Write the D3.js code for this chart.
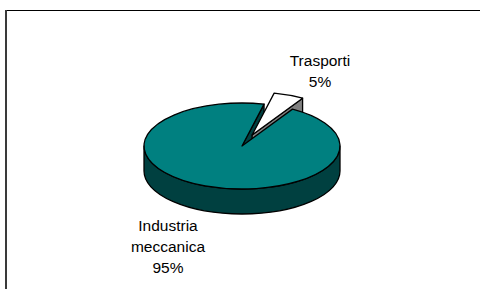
<!DOCTYPE html>
<html>
<head>
<meta charset="utf-8">
<script src="https://cdn.jsdelivr.net/npm/d3@7"></script>
<style>
  body { margin: 0; background: #fff; }
  svg { display: block; }
  text { font-family: "Liberation Sans", Arial, sans-serif; font-size: 15.5px; fill: #000; }
</style>
</head>
<body>
<div id="chart"></div>
<script>
let categories = ["Trasporti", "Industria meccanica"];
let values = [5, 95];
let colours = ["#ffffff", "#008080"];
let exploded = [true, false];

let dims = { "width": 480, "height": 289 };
let cx = 242, cy = 146, rx = 98, ry = 43, depth = 25;
let explodeDist = 27;
// label anchors (centre of first line) and line spacing
let labelPos = [[320, 66], [168, 231]];
let lineGap = 21;

const svg = d3.select("#chart").append("svg").attr("width", dims.width).attr("height", dims.height);

// chart area border (only top & left visible in the crop)
svg.append("line").attr("x1", 6).attr("x2", 480).attr("y1", 10.5).attr("y2", 10.5).attr("stroke", "#000").attr("stroke-width", 1);
svg.append("line").attr("x1", 6).attr("x2", 6).attr("y1", 10).attr("y2", 289).attr("stroke", "#3a3a3a").attr("stroke-width", 2);

let total = d3.sum(values);
let pie = d3.pie().sort(null).value(d => d.value)
  .startAngle(13 * Math.PI / 180).endAngle(13 * Math.PI / 180 + 2 * Math.PI);
let slices = pie(categories.map((c, i) => ({ name: c, value: values[i], colour: colours[i], exploded: exploded[i] })));

function shade(c) {
  let r = d3.rgb(c);
  return d3.rgb(r.r * 0.5, r.g * 0.5, r.b * 0.5).formatHex();
}

slices.forEach(d => {
  let mid = (d.startAngle + d.endAngle) / 2;
  d.ox = d.data.exploded ? explodeDist * Math.sin(mid) : 0;
  d.oy = d.data.exploded ? -explodeDist * Math.cos(mid) * ry / rx : 0;
});

function pt(d, a, dz) {
  return [cx + d.ox + rx * Math.sin(a), cy + d.oy - ry * Math.cos(a) + (dz || 0)];
}

function topPath(d) {
  let p0 = pt(d, d.startAngle), p1 = pt(d, d.endAngle);
  let large = d.endAngle - d.startAngle > Math.PI ? 1 : 0;
  return `M${cx + d.ox},${cy + d.oy}L${p0}A${rx},${ry} 0 ${large} 1 ${p1}Z`;
}

// outer wall, only the front half (angles pi/2 .. 3pi/2) can be seen
function sidePath(d) {
  let out = "";
  for (let k = -1; k <= 1; k++) {
    let lo = Math.max(d.startAngle, Math.PI / 2 + k * 2 * Math.PI);
    let hi = Math.min(d.endAngle, 3 * Math.PI / 2 + k * 2 * Math.PI);
    if (hi <= lo) continue;
    let a = pt(d, lo), b = pt(d, hi), b2 = pt(d, hi, depth), a2 = pt(d, lo, depth);
    out += `M${a}A${rx},${ry} 0 0 1 ${b}L${b2}A${rx},${ry} 0 0 0 ${a2}Z`;
  }
  return out;
}

function facePath(d, a) {
  let p = pt(d, a), p2 = pt(d, a, depth);
  return `M${cx + d.ox},${cy + d.oy}L${p}L${p2}L${cx + d.ox},${cy + d.oy + depth}Z`;
}

// cut faces facing the viewer
function visibleFaces(d) {
  let faces = [];
  if (Math.cos(d.startAngle - Math.PI / 2) < 0) faces.push(d.startAngle);
  if (Math.cos(d.endAngle + Math.PI / 2) < 0) faces.push(d.endAngle);
  return faces;
}

const g = svg.append("g")
  .attr("stroke", "#000").attr("stroke-width", 1.3).attr("stroke-linejoin", "round");

let base = slices.filter(d => !d.data.exploded);
let pulled = slices.filter(d => d.data.exploded);

base.forEach(d => {
  g.append("path").attr("d", sidePath(d)).attr("fill", shade(d.data.colour));
  visibleFaces(d).forEach(a => g.append("path").attr("d", facePath(d, a)).attr("fill", shade(d.data.colour)));
});
pulled.forEach(d => {
  g.append("path").attr("d", sidePath(d)).attr("fill", shade(d.data.colour));
  visibleFaces(d).forEach(a => g.append("path").attr("d", facePath(d, a)).attr("fill", shade(d.data.colour)));
  g.append("path").attr("d", topPath(d)).attr("fill", d.data.colour);
});
base.forEach(d => {
  g.append("path").attr("d", topPath(d)).attr("fill", d.data.colour);
});

// data labels
slices.forEach((d, i) => {
  let lines = d.data.name.split(" ").concat([Math.round(d.data.value / total * 100) + "%"]);
  let t = svg.append("text").attr("text-anchor", "middle");
  lines.forEach((l, j) => {
    t.append("tspan").attr("x", labelPos[i][0]).attr("y", labelPos[i][1] + j * lineGap).text(l);
  });
});
</script>
</body>
</html>
